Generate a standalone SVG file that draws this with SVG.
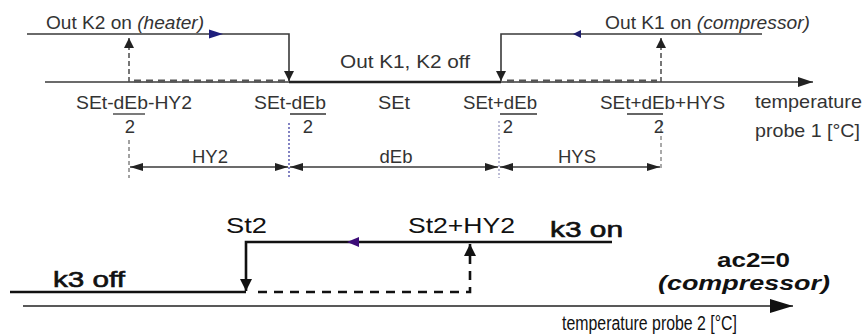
<svg xmlns="http://www.w3.org/2000/svg" width="863" height="336" viewBox="0 0 863 336">
<style>
.t{font-family:"Liberation Sans",Arial,sans-serif;fill:#333;font-size:18.5px}
.b{font-family:"Liberation Sans",Arial,sans-serif;fill:#111;font-size:22px}
.bb{font-weight:bold}
.sb{stroke:#111;stroke-width:0.6}
.it{font-style:italic}
.ln{stroke:#3a3a3a;stroke-width:1.6;fill:none}
.lnb{stroke:#111;stroke-width:2.6;fill:none}
.dash{stroke:#4a4a4a;stroke-width:1.5;stroke-dasharray:5,3;fill:none}
.hd{stroke:#555;stroke-width:3;stroke-dasharray:7,5;fill:none}
.ul{stroke:#333;stroke-width:1.3}
</style>
<defs>
<marker id="dim" markerUnits="userSpaceOnUse" markerWidth="14" markerHeight="10" refX="13" refY="5" orient="auto-start-reverse" viewBox="0 0 14 10"><path d="M0,1 L13,5 L0,9 Z" fill="#222"/></marker>
<marker id="ax1" markerUnits="userSpaceOnUse" markerWidth="16" markerHeight="12" refX="15" refY="6" orient="auto" viewBox="0 0 16 12"><path d="M0,1 L15,6 L0,11 Z" fill="#222"/></marker>
<marker id="ax2" markerUnits="userSpaceOnUse" markerWidth="24" markerHeight="16" refX="23" refY="8" orient="auto" viewBox="0 0 24 16"><path d="M0,1 L23,8 L0,15 Z" fill="#111"/></marker>
<marker id="tri1" markerUnits="userSpaceOnUse" markerWidth="11" markerHeight="11" refX="10" refY="5.5" orient="auto" viewBox="0 0 11 11"><path d="M0,0.5 L10,5.5 L0,10.5 Z" fill="#222"/></marker>
<marker id="tri2" markerUnits="userSpaceOnUse" markerWidth="13" markerHeight="13" refX="12" refY="6.5" orient="auto" viewBox="0 0 13 13"><path d="M0,0.5 L12,6.5 L0,12.5 Z" fill="#111"/></marker>
</defs>
<rect width="863" height="336" fill="#fff"/>

<g id="connectors">
  <line class="ln" x1="45" y1="82" x2="813" y2="82" marker-end="url(#ax1)"/>
  <line x1="289" y1="82" x2="501" y2="82" stroke="#222" stroke-width="2.6"/>
  <line class="hd" x1="134" y1="81" x2="285" y2="81"/>
  <line class="hd" x1="507" y1="81" x2="657" y2="81"/>
  <polyline class="ln" points="27,34 289,34 289,81" marker-end="url(#tri1)"/>
  <polyline class="ln" points="762,34 501,34 501,81" marker-end="url(#tri1)"/>
  <line class="dash" x1="129" y1="82" x2="129" y2="38" marker-end="url(#tri1)"/>
  <line class="dash" x1="661" y1="82" x2="661" y2="38" marker-end="url(#tri1)"/>
  <path d="M209,29.5 L223,34 L209,38.5 Z" fill="#1e1e7c"/>
  <path d="M581,30 L573,34 L581,38 Z" fill="#1e1e6c"/>
  <line x1="129" y1="140" x2="129" y2="178" stroke="#444" stroke-width="1" stroke-dasharray="4,3"/>
  <line x1="289" y1="123" x2="289" y2="178" stroke="#6464b4" stroke-width="1.6" stroke-dasharray="2,2"/>
  <line x1="499" y1="121" x2="499" y2="178" stroke="#9a9ac0" stroke-width="1.3" stroke-dasharray="2,2"/>
  <line x1="661" y1="122" x2="661" y2="170" stroke="#555" stroke-width="1" stroke-dasharray="4,3"/>
  <line class="ln" x1="130" y1="167" x2="288" y2="167" marker-start="url(#dim)" marker-end="url(#dim)"/>
  <line class="ln" x1="290" y1="167" x2="498" y2="167" marker-start="url(#dim)" marker-end="url(#dim)"/>
  <line class="ln" x1="500" y1="167" x2="660" y2="167" marker-start="url(#dim)" marker-end="url(#dim)"/>
  <line x1="23" y1="306" x2="793" y2="306" stroke="#222" stroke-width="1.3" marker-end="url(#ax2)"/>
  <polyline class="lnb" points="612,242 246,242 246,291" marker-end="url(#tri2)"/>
  <line class="lnb" x1="10" y1="292" x2="246" y2="292"/>
  <polyline class="lnb" points="258,292 470,292 470,244" style="stroke-dasharray:9,7" marker-end="url(#tri2)"/>
  <path d="M359,237 L347,242 L359,247 Z" fill="#3c0c78"/>
</g>

<g id="label-k2-on"><text class="t" x="46" y="29" textLength="158" lengthAdjust="spacingAndGlyphs">Out K2 on <tspan class="it">(heater)</tspan></text></g>
<g id="label-k1-on"><text class="t" x="605" y="29" textLength="205" lengthAdjust="spacingAndGlyphs">Out K1 on <tspan class="it">(compressor)</tspan></text></g>
<g id="label-off"><text class="t" x="340" y="68" textLength="130" lengthAdjust="spacingAndGlyphs">Out K1, K2 off</text></g>

<g id="tick-1">
  <text class="t" x="76" y="109" textLength="116" lengthAdjust="spacingAndGlyphs">SEt-dEb-HY2</text>
  <line class="ul" x1="113" y1="114" x2="145" y2="114"/>
  <text class="t" x="130" y="133" text-anchor="middle">2</text>
</g>
<g id="tick-2">
  <text class="t" x="254" y="109" textLength="72" lengthAdjust="spacingAndGlyphs">SEt-dEb</text>
  <line class="ul" x1="290" y1="114" x2="326" y2="114"/>
  <text class="t" x="308" y="133" text-anchor="middle">2</text>
</g>
<g id="tick-3"><text class="t" x="378" y="109" textLength="32" lengthAdjust="spacingAndGlyphs">SEt</text></g>
<g id="tick-4">
  <text class="t" x="463" y="109" textLength="74" lengthAdjust="spacingAndGlyphs">SEt+dEb</text>
  <line class="ul" x1="500" y1="114" x2="537" y2="114"/>
  <text class="t" x="508" y="133" text-anchor="middle">2</text>
</g>
<g id="tick-5">
  <text class="t" x="600" y="109" textLength="125" lengthAdjust="spacingAndGlyphs">SEt+dEb+HYS</text>
  <line class="ul" x1="627" y1="114" x2="663" y2="114"/>
  <text class="t" x="659" y="133" text-anchor="middle">2</text>
</g>
<g id="axis1-label">
  <text class="t" x="755" y="108" textLength="107" lengthAdjust="spacingAndGlyphs">temperature</text>
  <text class="t" x="755" y="137" textLength="105" lengthAdjust="spacingAndGlyphs">probe 1 [°C]</text>
</g>
<g id="dim-hy2"><text class="t" x="210" y="163" text-anchor="middle">HY2</text></g>
<g id="dim-deb"><text class="t" x="396" y="163" text-anchor="middle">dEb</text></g>
<g id="dim-hys"><text class="t" x="577" y="163" text-anchor="middle">HYS</text></g>

<g id="label-st2"><text class="b" x="226" y="233" textLength="41" lengthAdjust="spacingAndGlyphs">St2</text></g>
<g id="label-st2hy2"><text class="b" x="408" y="233" textLength="107" lengthAdjust="spacingAndGlyphs">St2+HY2</text></g>
<g id="label-k3on"><text class="b sb" x="550" y="237" textLength="73" lengthAdjust="spacingAndGlyphs">k3 on</text></g>
<g id="label-k3off"><text class="b sb" x="53" y="287" textLength="72" lengthAdjust="spacingAndGlyphs">k3 off</text></g>
<g id="label-ac2"><text class="b bb" x="717" y="267" textLength="73" lengthAdjust="spacingAndGlyphs" style="font-size:20px">ac2=0</text></g>
<g id="label-comp"><text class="b bb it" x="658" y="290" textLength="172" lengthAdjust="spacingAndGlyphs" style="font-size:21px">(compressor)</text></g>
<g id="axis2-label"><text class="b" x="562" y="330" textLength="175" lengthAdjust="spacingAndGlyphs" style="font-size:20px">temperature probe 2 [°C]</text></g>
</svg>
